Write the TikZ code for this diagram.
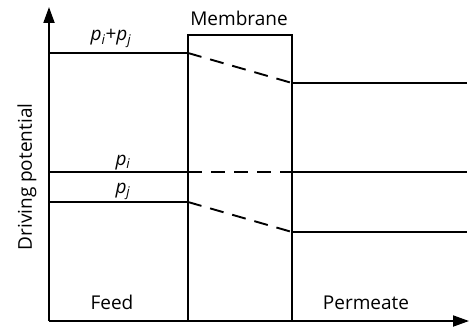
\documentclass[tikz,border=0pt]{standalone}
\usepackage{fontspec}
\setmainfont{Open Sans}
\usetikzlibrary{arrows.meta}
\newcommand{\pv}[1]{\textit{p}\textsubscript{\textit{#1}}}
\begin{document}
\begin{tikzpicture}[x=1pt,y=-1pt,
  ln/.style={line width=1.9pt},
  dsh/.style={line width=1.9pt,dash pattern=on 14pt off 9pt},
  axis/.style={line width=1.9pt,-{Triangle[length=16pt,width=11pt]}},
  lbl/.style={font=\fontsize{19}{22}\selectfont,inner sep=0pt}]
\useasboundingbox (0,0) rectangle (473,329);
% coordinates
\coordinate (O) at (49,321);
\coordinate (Ytop) at (49,7);
\coordinate (Xend) at (469,321);
\coordinate (MTL) at (188,35);
\coordinate (MTR) at (292,35);
\coordinate (MBL) at (188,321);
\coordinate (MBR) at (292,321);
\coordinate (a0) at (49,53);  \coordinate (a1) at (188,53);
\coordinate (a2) at (292,83); \coordinate (a3) at (467,83);
\coordinate (b0) at (49,172); \coordinate (b1) at (188,172);
\coordinate (b2) at (292,172); \coordinate (b3) at (467,172);
\coordinate (c0) at (49,202); \coordinate (c1) at (188,202);
\coordinate (c2) at (292,232); \coordinate (c3) at (467,232);
% membrane
\draw[ln] (MBL) -- (MTL) -- (MTR) -- (MBR);
% lines
\draw[ln] (a0) -- (a1); \draw[dsh] (a1) -- (a2); \draw[ln] (a2) -- (a3);
\draw[ln] (b0) -- (b1); \draw[dsh] (b1) -- (b2); \draw[ln] (b2) -- (b3);
\draw[ln] (c0) -- (c1); \draw[dsh] (c1) -- (c2); \draw[ln] (c2) -- (c3);
% axes
\draw[axis] (O) -- (Ytop);
\draw[axis] (O) -- (Xend);
% labels
\node[lbl,anchor=base] (tij) at (111,41) {\pv{i}+\pv{j}};
\node[lbl,anchor=base] (ti) at (123,165) {\pv{i}};
\node[lbl,anchor=base] (tj) at (123,193) {\pv{j}};
\node[lbl,anchor=base] (tm) at (239,26) {Membrane};
\node[lbl,anchor=base] (tf) at (112,309) {Feed};
\node[lbl,anchor=base] (tp) at (366,309) {Permeate};
\node[lbl,rotate=90] (ty) at (27,177) {Driving potential};
\end{tikzpicture}
\end{document}
